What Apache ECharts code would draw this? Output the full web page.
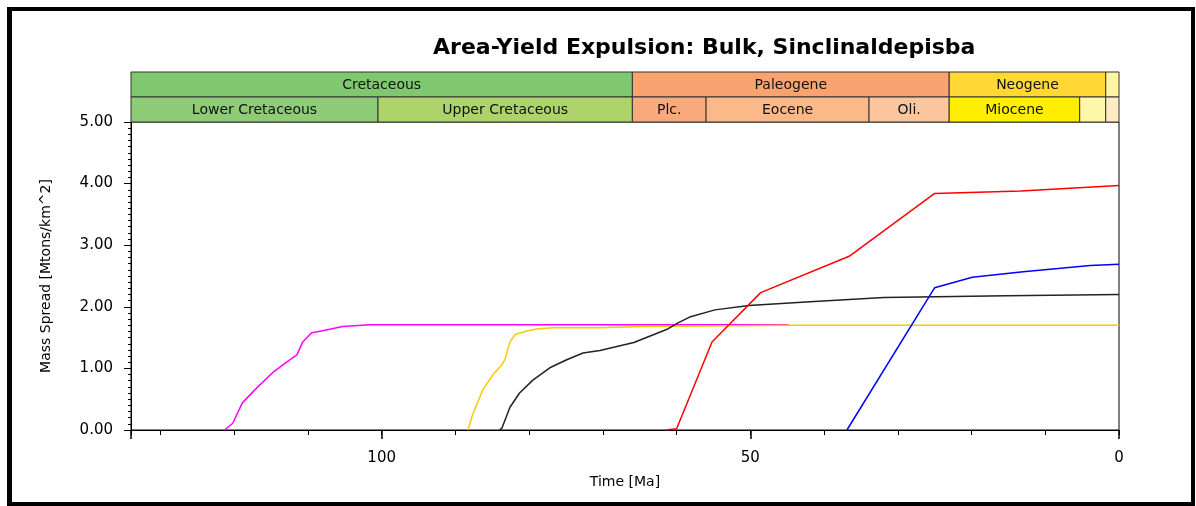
<!DOCTYPE html>
<html>
<head>
<meta charset="utf-8">
<title>Area-Yield Expulsion</title>
<script src="https://cdn.jsdelivr.net/npm/echarts@6/dist/echarts.min.js"></script>
<style>
  html, body { margin: 0; padding: 0; background: #fff; }
  #chart { width: 1196px; height: 506px; }
</style>
</head>
<body>
<div id="chart"></div>
<script>
// [age Ma, mass spread Mtons/km^2]
const magenta = [
  [121.3, 0], [120.2, 0.11], [118.9, 0.44], [116.8, 0.70], [114.8, 0.93],
  [112.8, 1.11], [111.5, 1.22], [110.7, 1.43], [109.5, 1.58], [108.0, 1.61],
  [105.3, 1.68], [101.6, 1.71], [44.8, 1.71]
]
const yellow = [
  [88.3, 0], [87.7, 0.24], [86.3, 0.65], [84.9, 0.90], [83.7, 1.06], [83.3, 1.14],
  [82.6, 1.43], [81.9, 1.55], [80.6, 1.60], [79.0, 1.64], [76.8, 1.66], [70.4, 1.66],
  [64.5, 1.68], [44.8, 1.70], [0, 1.70]
]
const black = [
  [84.0, 0], [83.7, 0.03], [82.6, 0.37], [81.3, 0.60], [79.5, 0.81], [77.2, 1.01],
  [74.9, 1.14], [72.7, 1.25], [70.4, 1.29], [65.8, 1.42], [61.2, 1.64], [59.8, 1.74],
  [58.1, 1.84], [54.8, 1.95], [50.2, 2.02], [41.9, 2.08], [31.9, 2.15], [15.3, 2.18],
  [0, 2.20]
]
const red = [
  [61.5, 0], [60.0, 0.02], [55.2, 1.43], [48.6, 2.23], [36.6, 2.82], [25.0, 3.84],
  [13.3, 3.88], [0, 3.97]
]
const blue = [
  [36.9, 0], [25.0, 2.31], [19.9, 2.48], [13.0, 2.57], [3.9, 2.67], [0, 2.69]
]

// geologic time header
const periodNames = ['Cretaceous', 'Paleogene', 'Neogene', '']
const periodStart = [134, 66, 23.03, 1.8]
const periodEnd = [66, 23.03, 1.8, 0]
const periodColors = ['#80c870', '#f9a470', '#ffd835', '#fff5a0']

const epochNames = ['Lower Cretaceous', 'Upper Cretaceous', 'Plc.', 'Eocene', 'Oli.', 'Miocene', '', '']
const epochStart = [134, 100.5, 66, 56, 33.9, 23.03, 5.33, 1.8]
const epochEnd = [100.5, 66, 56, 33.9, 23.03, 5.33, 1.8, 0]
const epochColors = ['#8fcc78', '#acd46b', '#f9aa7c', '#fbb888', '#fcc69c', '#ffee00', '#fff7a8', '#ffebc2']

const yTicks = [0, 1, 2, 3, 4, 5]

const font = '"DejaVu Sans", "Liberation Sans", sans-serif'

const headerData = [
  ...periodNames.map((n, i) => [periodStart[i], periodEnd[i], 0, i]),
  ...epochNames.map((n, i) => [epochStart[i], epochEnd[i], 1, i])
]

const chart = echarts.init(document.getElementById('chart'), null, { renderer: 'canvas' })

const lineSeries = (data, color) => ({
  type: 'line',
  data: data,
  xAxisIndex: 0,
  yAxisIndex: 0,
  showSymbol: false,
  symbol: 'none',
  silent: true,
  lineStyle: { color: color, width: 1.5 }
})

const option = {
  animation: false,
  backgroundColor: '#fff',
  title: {
    text: 'Area-Yield Expulsion: Bulk, Sinclinaldepisba',
    left: 428,
    top: 32,
    textStyle: { fontFamily: '"DejaVu Sans", sans-serif', fontSize: 22, fontWeight: 'bold', color: '#000' }
  },
  graphic: [
    {
      type: 'rect',
      shape: { x: 9, y: 9, width: 1184, height: 495 },
      style: { fill: 'none', stroke: '#000', lineWidth: 4 },
      silent: true
    },
    {
      type: 'rect',
      shape: { x: 7, y: 7, width: 5, height: 499 },
      style: { fill: '#000' },
      silent: true
    }
  ],
  grid: [
    { left: 131, right: 77, top: 122, bottom: 76, show: true, borderColor: '#000', borderWidth: 1 },
    { left: 131, right: 77, top: 72, height: 50 }
  ],
  xAxis: [
    {
      type: 'value', gridIndex: 0, min: 0, max: 134, interval: 10, inverse: true,
      name: 'Time [Ma]', nameLocation: 'middle', nameGap: 45,
      nameTextStyle: { fontFamily: font, fontSize: 14, color: '#000' },
      axisLine: { show: true, onZero: false, lineStyle: { color: '#000', width: 1 } },
      axisTick: { show: true, length: 5, lineStyle: { color: '#000' } },
      axisLabel: {
        margin: 21, fontFamily: font, fontSize: 15, color: '#000',
        formatter: v => (v % 50 === 0 ? String(v) : '')
      },
      splitLine: { show: false }
    },
    {
      type: 'value', gridIndex: 0, min: 0, max: 134, interval: 50, inverse: true,
      position: 'bottom',
      axisLine: { show: false, onZero: false },
      axisTick: { show: true, length: 9, lineStyle: { color: '#000', width: 1.5 } },
      axisLabel: { show: false },
      splitLine: { show: false }
    },
    {
      type: 'value', gridIndex: 1, min: 0, max: 134, inverse: true, show: false
    }
  ],
  yAxis: [
    {
      type: 'value', gridIndex: 0, min: yTicks[0], max: yTicks[yTicks.length - 1], interval: 1,
      position: 'left',
      name: 'Mass Spread [Mtons/km^2]', nameLocation: 'middle', nameGap: 78,
      nameTextStyle: { fontFamily: font, fontSize: 14, color: '#000' },
      axisLine: { show: true, onZero: false, lineStyle: { color: '#000', width: 1 } },
      axisTick: { show: true, length: 7, lineStyle: { color: '#000' } },
      minorTick: { show: true, splitNumber: 10, length: 3, lineStyle: { color: '#000' } },
      axisLabel: {
        margin: 18, fontFamily: font, fontSize: 15, color: '#000',
        formatter: v => v.toFixed(2)
      },
      splitLine: { show: false }
    },
    {
      type: 'value', gridIndex: 1, min: 0, max: 2, show: false
    }
  ],
  series: [
    {
      type: 'custom',
      xAxisIndex: 2,
      yAxisIndex: 1,
      clip: false,
      silent: true,
      encode: { x: [0, 1], y: 2 },
      data: headerData,
      renderItem: (params, api) => {
        const x0 = api.value(0)
        const x1 = api.value(1)
        const row = api.value(2)
        const idx = api.value(3)
        const p0 = api.coord([x0, 2 - row])
        const p1 = api.coord([x1, 1 - row])
        const name = row === 0 ? periodNames[idx] : epochNames[idx]
        const color = row === 0 ? periodColors[idx] : epochColors[idx]
        return {
          type: 'group',
          children: [
            {
              type: 'rect',
              shape: { x: p0[0], y: p0[1], width: p1[0] - p0[0], height: p1[1] - p0[1] },
              style: { fill: color, stroke: '#333', lineWidth: 1 }
            },
            {
              type: 'text',
              style: {
                text: name,
                x: (p0[0] + p1[0]) / 2,
                y: (p0[1] + p1[1]) / 2 + 1,
                align: 'center',
                verticalAlign: 'middle',
                font: '14px ' + font,
                fill: '#111'
              }
            }
          ]
        }
      }
    },
    lineSeries(magenta, '#ff00ff'),
    lineSeries(yellow, '#ffc800'),
    lineSeries(black, '#222222'),
    lineSeries(red, '#ff0000'),
    lineSeries(blue, '#0000ff')
  ]
}

chart.setOption(option)
</script>
</body>
</html>
